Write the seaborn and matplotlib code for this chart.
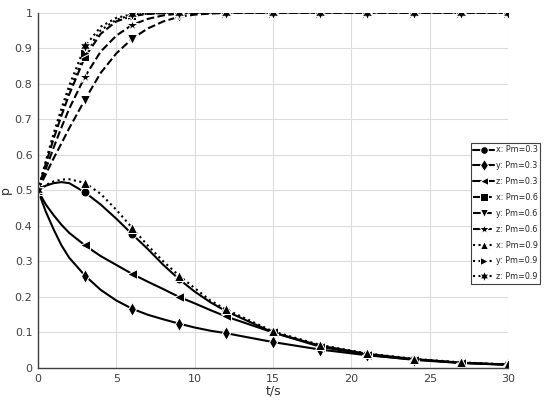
import numpy as np
import pandas as pd
import matplotlib
matplotlib.use("Agg")
import matplotlib.pyplot as plt
import seaborn as sns

# time samples (markers every 3 s)
t = [0, 0.5, 1, 1.5, 2, 3, 4, 5, 6, 7, 8, 9, 10, 11, 12, 15, 18, 21, 24, 27, 30]

x_pm03 = [0.5, 0.513, 0.52, 0.523, 0.52, 0.494, 0.46, 0.42, 0.377, 0.335, 0.29, 0.25, 0.215, 0.185, 0.16, 0.10, 0.063, 0.04, 0.025, 0.015, 0.01]
y_pm03 = [0.5, 0.44, 0.39, 0.345, 0.31, 0.26, 0.22, 0.19, 0.167, 0.15, 0.137, 0.125, 0.114, 0.105, 0.098, 0.073, 0.052, 0.036, 0.024, 0.015, 0.009]
z_pm03 = [0.5, 0.46, 0.43, 0.403, 0.38, 0.345, 0.315, 0.29, 0.265, 0.243, 0.222, 0.2, 0.182, 0.163, 0.145, 0.1, 0.06, 0.037, 0.023, 0.014, 0.009]
x_pm06 = [0.5, 0.575, 0.645, 0.71, 0.77, 0.875, 0.94, 0.975, 0.99, 0.996, 0.998, 0.999, 1, 1, 1, 1, 1, 1, 1, 1, 1]
y_pm06 = [0.5, 0.545, 0.59, 0.632, 0.675, 0.755, 0.83, 0.885, 0.926, 0.955, 0.975, 0.988, 0.994, 0.997, 0.999, 1, 1, 1, 1, 1, 1]
z_pm06 = [0.5, 0.56, 0.62, 0.677, 0.73, 0.82, 0.89, 0.935, 0.965, 0.982, 0.992, 0.997, 0.999, 1, 1, 1, 1, 1, 1, 1, 1]
x_pm09 = [0.5, 0.515, 0.525, 0.53, 0.531, 0.521, 0.49, 0.445, 0.395, 0.345, 0.30, 0.26, 0.225, 0.19, 0.165, 0.103, 0.065, 0.041, 0.026, 0.016, 0.01]
y_pm09 = [0.5, 0.578, 0.65, 0.717, 0.78, 0.886, 0.95, 0.98, 0.993, 0.997, 0.999, 1, 1, 1, 1, 1, 1, 1, 1, 1, 1]
z_pm09 = [0.5, 0.582, 0.66, 0.73, 0.795, 0.905, 0.96, 0.985, 0.995, 0.998, 0.999, 1, 1, 1, 1, 1, 1, 1, 1, 1, 1]

labels = ["x: Pm=0.3", "y: Pm=0.3", "z: Pm=0.3",
          "x: Pm=0.6", "y: Pm=0.6", "z: Pm=0.6",
          "x: Pm=0.9", "y: Pm=0.9", "z: Pm=0.9"]
series = [x_pm03, y_pm03, z_pm03, x_pm06, y_pm06, z_pm06, x_pm09, y_pm09, z_pm09]

styles = ["-", "-", "-", "--", "--", "--", ":", ":", ":"]
markers = ["o", "d", "<", "s", "v", "*", "^", ">", (6, 1, 0)]
sizes = [6.5, 7.5, 7, 6, 7.5, 9, 7.5, 7.5, 9]

mark_idx = [i for i, v in enumerate(t) if v % 3 == 0]

sns.set_style("whitegrid")
fig = plt.figure(figsize=(5.5, 4.04), dpi=100)
ax = fig.add_axes([0.069, 0.089, 0.855, 0.880])

for vals, lab, ls, mk, ms in zip(series, labels, styles, markers, sizes):
    sns.lineplot(x=t, y=vals, ax=ax, color="black", linestyle=ls, linewidth=1.5,
                 marker=mk, markersize=ms, markevery=mark_idx, label=lab)

ax.set_xlim(0, 30)
ax.set_ylim(0, 1)
ax.set_xticks([0, 5, 10, 15, 20, 25, 30])
ax.set_yticks(np.arange(0, 1.01, 0.1))
ax.set_yticklabels(["0", "0.1", "0.2", "0.3", "0.4", "0.5", "0.6", "0.7", "0.8", "0.9", "1"])
ax.grid(True, color="#dcdcdc", linewidth=0.8)
ax.tick_params(labelsize=8, colors="#404040", length=0, pad=4)
for s in ["top", "right"]:
    ax.spines[s].set_visible(False)
for s in ["left", "bottom"]:
    ax.spines[s].set_color("#404040")
    ax.spines[s].set_linewidth(1.0)

ax.set_xlabel("t/s", fontsize=9, color="#303030", labelpad=1)
ax.set_ylabel("p", fontsize=9, color="#303030", labelpad=2)

leg = ax.legend(loc="upper left", bbox_to_anchor=(471 / 550, 1 - 143 / 404),
                bbox_transform=fig.transFigure, fontsize=5.8, frameon=True,
                fancybox=False, framealpha=1, edgecolor="#404040",
                handlelength=2.6, handletextpad=0.2, labelspacing=0.85,
                borderpad=0.3, borderaxespad=0, markerscale=0.85)
leg.get_frame().set_linewidth(0.8)

fig.savefig("out.png", dpi=100)
